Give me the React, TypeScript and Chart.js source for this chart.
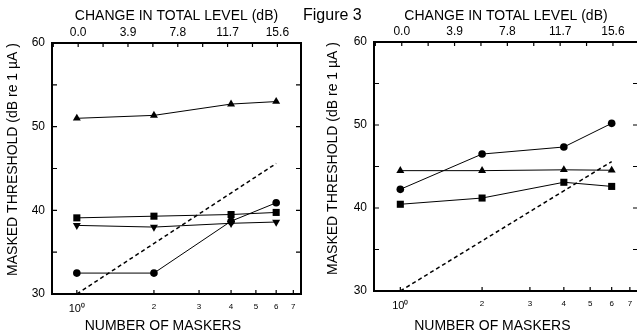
import React, { useEffect, useRef } from 'react';
import { Chart, registerables } from 'chart.js';

Chart.register(...registerables);

const FONT = "'Liberation Sans', Arial, Helvetica, sans-serif";

// Number of maskers (x positions of measured points)
const maskers = [1, 2, 4, 6];
// Predicted (dashed) line endpoints
const predictedX = [1, 6];
const predictedY = [30, 45.6];

// Left panel series (dB re 1 µA)
const leftTriUp = [51.0, 51.35, 52.7, 53.0];
const leftSquare = [39.1, 39.3, 39.5, 39.75];
const leftTriDown = [38.2, 38.0, 38.45, 38.6];
const leftCircle = [32.5, 32.5, 38.7, 40.9];

// Right panel series
const rightCircle = [42.25, 46.5, 47.35, 50.2];
const rightTriUp = [44.5, 44.5, 44.6, 44.55];
const rightSquare = [40.45, 41.2, 43.1, 42.6];

// Axis ticks
const bottomTicks = [1, 2, 3, 4, 5, 6, 7];
const topTicks = [0, 3.9, 7.8, 11.7, 15.6];
const topMinorTicks = [-1.95, 1.95, 5.85, 9.75, 13.65, 17.55];
const yLabelTicks = [30, 40, 50, 60];
const yMarkTicks = [35, 40, 45, 50, 55];

const yTitle = 'MASKED THRESHOLD (dB re 1 µA )';
const xTitle = 'NUMBER OF MASKERS';
const topTitle = 'CHANGE IN TOTAL LEVEL (dB)';
const figureLabel = 'Figure 3';

const pts = (xs: number[], ys: number[]) => xs.map((x, i) => ({ x, y: ys[i] }));

const framePlugin = {
  id: 'frame',
  afterDraw(chart: any) {
    const { ctx, chartArea: a, scales } = chart;
    ctx.save();
    ctx.strokeStyle = '#000';
    ctx.lineWidth = 1.2;
    const L = 5;
    const S = 4;
    ctx.beginPath();
    for (const v of bottomTicks) {
      const px = scales.x.getPixelForValue(v);
      if (px <= a.left || px >= a.right) continue;
      ctx.moveTo(px, a.bottom);
      ctx.lineTo(px, a.bottom - S);
    }
    for (const v of [...topTicks, ...topMinorTicks]) {
      const px = scales.x2.getPixelForValue(v);
      if (px <= a.left + 1 || px >= a.right - 1) continue;
      ctx.moveTo(px, a.top);
      ctx.lineTo(px, a.top + S);
    }
    for (const v of yMarkTicks) {
      const py = scales.y.getPixelForValue(v);
      ctx.moveTo(a.left, py);
      ctx.lineTo(a.left + L, py);
      ctx.moveTo(a.right, py);
      ctx.lineTo(a.right - L, py);
    }
    ctx.stroke();
    ctx.lineWidth = 2;
    ctx.strokeRect(a.left, a.top, a.right - a.left, a.bottom - a.top);
    ctx.restore();
  },
};

type PanelCfg = {
  x: number;
  width: number;
  axisLeft: number;
  padRight: number;
  topH: number;
  bottomH: number;
  series: { data: number[]; style: string; rotation?: number; radius: number; order?: number }[];
};

const leftCfg: PanelCfg = {
  x: 0,
  width: 318,
  axisLeft: 52,
  padRight: 17,
  topH: 43,
  bottomH: 37,
  series: [
    { data: leftTriUp, style: 'triangle', radius: 4.6 },
    { data: leftSquare, style: 'rect', radius: 5 },
    { data: leftTriDown, style: 'triangle', rotation: 180, radius: 4.6 },
    { data: leftCircle, style: 'circle', radius: 3.8, order: 5 },
  ],
};

const rightCfg: PanelCfg = {
  x: 320,
  width: 330,
  axisLeft: 54,
  padRight: 12,
  topH: 42,
  bottomH: 40,
  series: [
    { data: rightCircle, style: 'circle', radius: 3.8 },
    { data: rightTriUp, style: 'triangle', radius: 4.6 },
    { data: rightSquare, style: 'rect', radius: 5 },
  ],
};

function Panel({ cfg }: { cfg: PanelCfg }) {
  const ref = useRef<HTMLCanvasElement | null>(null);
  useEffect(() => {
    if (!ref.current) return;
    const datasets: any[] = cfg.series.map((s) => ({
      data: pts(maskers, s.data),
      borderColor: '#000',
      backgroundColor: '#000',
      borderWidth: 1,
      pointStyle: s.style,
      rotation: s.rotation || 0,
      pointRadius: s.radius,
      pointBorderWidth: 0,
      pointBackgroundColor: '#000',
      tension: 0,
      order: s.order || 0,
      xAxisID: 'x',
      yAxisID: 'y',
    }));
    datasets.push({
      data: pts(predictedX, predictedY),
      borderColor: '#000',
      borderWidth: 1.5,
      borderDash: [4, 3],
      pointRadius: 0,
      order: 1,
      xAxisID: 'x',
      yAxisID: 'y',
    });
    const chart = new Chart(ref.current, {
      type: 'line',
      data: { datasets },
      options: {
        responsive: false,
        animation: false,
        devicePixelRatio: 1,
        layout: { autoPadding: false, padding: { left: 0, top: 0, bottom: 0, right: cfg.padRight } },
        plugins: { legend: { display: false }, tooltip: { enabled: false } },
        scales: {
          x: {
            type: 'logarithmic',
            position: 'bottom',
            min: 0.8,
            max: 7.5,
            grid: { display: false, drawTicks: false },
            border: { display: false },
            afterBuildTicks: (s: any) => {
              s.ticks = bottomTicks.map((v) => ({ value: v }));
            },
            afterFit: (s: any) => {
              s.height = cfg.bottomH;
            },
            ticks: {
              autoSkip: false,
              maxRotation: 0,
              padding: 8,
              color: '#000',
              font: (c: any) => ({ family: FONT, size: c.tick && c.tick.value === 1 ? 11 : 8 }),
              callback: (v: any) => (Number(v) === 1 ? '10⁰' : String(v)),
            },
            title: {
              display: true,
              text: xTitle + '       ',
              color: '#000',
              font: { family: FONT, size: 14, lineHeight: 1 },
              padding: { top: 0, bottom: -2 },
            },
          },
          x2: {
            type: 'linear',
            position: 'top',
            min: -2.05,
            max: 17.45,
            grid: { display: false, drawTicks: false },
            border: { display: false },
            afterBuildTicks: (s: any) => {
              s.ticks = topTicks.map((v) => ({ value: v }));
            },
            afterFit: (s: any) => {
              s.height = cfg.topH;
            },
            ticks: {
              autoSkip: false,
              maxRotation: 0,
              padding: 3,
              color: '#000',
              font: { family: FONT, size: 12 },
              callback: (v: any) => Number(v).toFixed(1),
            },
            title: {
              display: true,
              text: topTitle,
              color: '#000',
              font: { family: FONT, size: 14 },
              padding: { top: 7.6, bottom: 0 },
            },
          },
          y: {
            type: 'linear',
            position: 'left',
            min: 30,
            max: 60,
            grid: { display: false, drawTicks: false },
            border: { display: false },
            afterBuildTicks: (s: any) => {
              s.ticks = yLabelTicks.map((v) => ({ value: v }));
            },
            afterFit: (s: any) => {
              s.width = cfg.axisLeft;
            },
            ticks: {
              padding: 7,
              color: '#000',
              font: { family: FONT, size: 12 },
            },
            title: {
              display: true,
              text: yTitle,
              align: 'end',
              color: '#000',
              font: { family: FONT, size: 14 },
              padding: { top: 5, bottom: 0 },
            },
          },
        },
      } as any,
      plugins: [framePlugin],
    });
    return () => chart.destroy();
  }, []);
  return (
    <canvas
      ref={ref}
      width={cfg.width}
      height={331}
      style={{ position: 'absolute', left: cfg.x, top: 0, width: cfg.width, height: 331 }}
    />
  );
}

export default function App() {
  return (
    <div
      style={{
        position: 'fixed',
        left: 0,
        top: 0,
        width: 637,
        height: 331,
        overflow: 'hidden',
        background: '#fff',
      }}
    >
      <Panel cfg={leftCfg} />
      <Panel cfg={rightCfg} />
      <div
        style={{
          position: 'absolute',
          left: 303,
          top: 7,
          fontFamily: FONT,
          fontSize: 16,
          lineHeight: '16px',
          color: '#000',
          whiteSpace: 'nowrap',
        }}
      >
        {figureLabel}
      </div>
    </div>
  );
}
